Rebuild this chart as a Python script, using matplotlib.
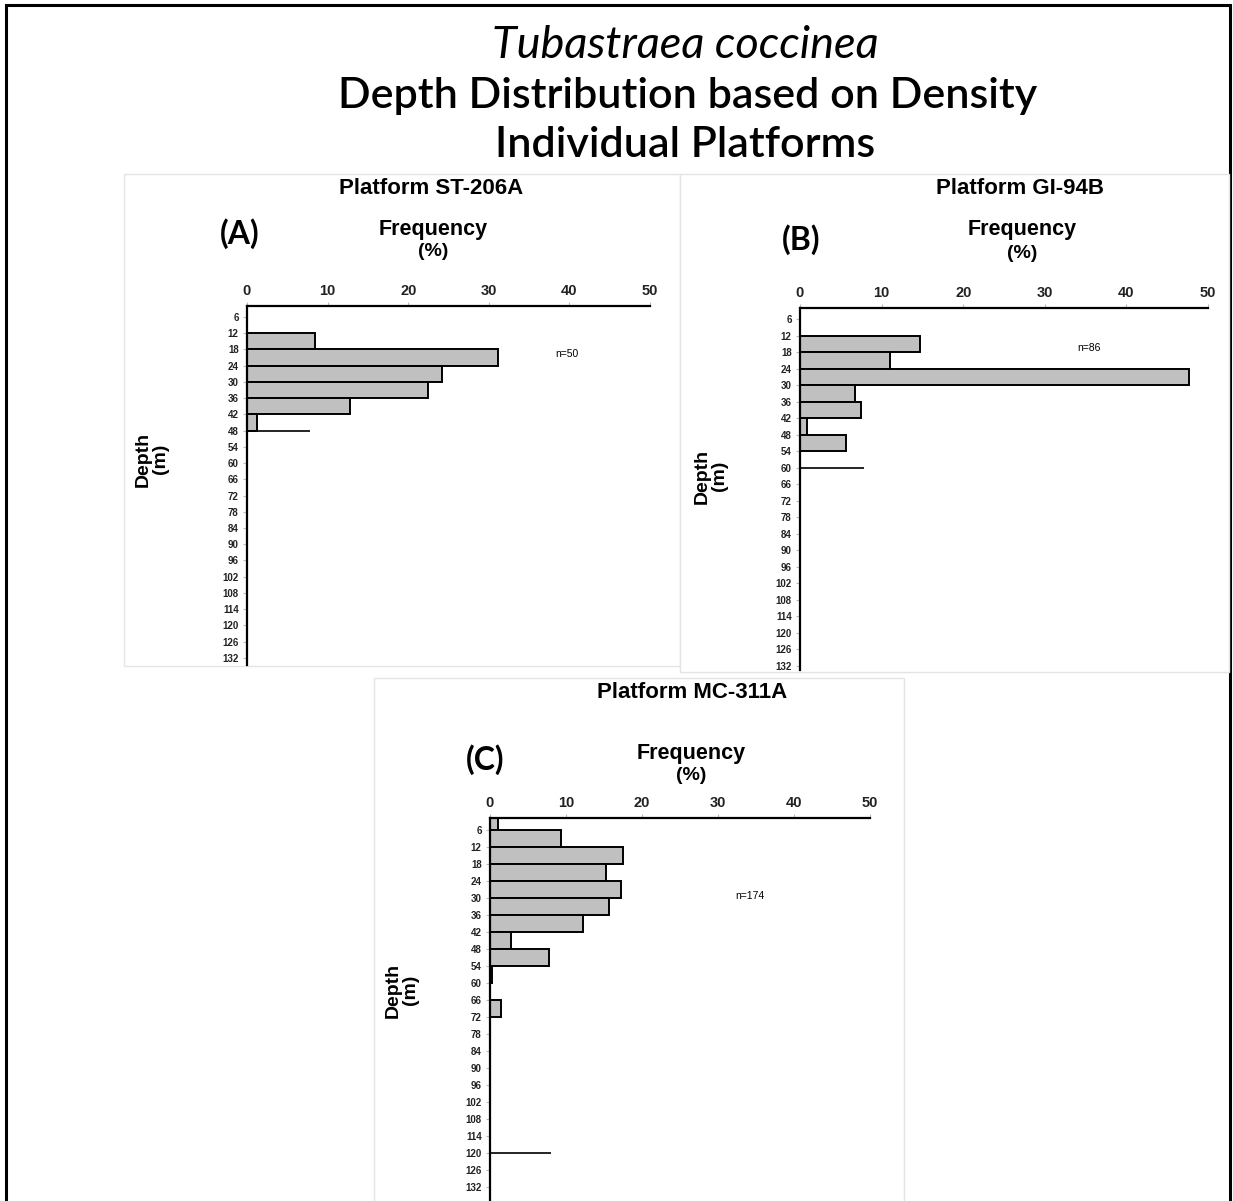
import numpy as np
import matplotlib
matplotlib.use("Agg")
import matplotlib.pyplot as plt
from matplotlib.patches import Rectangle

W, H = 1233, 1201

# bar data: depth bin start (m) and frequency (%)
a_depth = [12, 18, 24, 30, 36, 42]
a_freq = [8.4, 31.2, 24.2, 22.4, 12.8, 1.2]
b_depth = [12, 18, 24, 30, 36, 42, 48]
b_freq = [14.7, 11.0, 47.7, 6.7, 7.5, 0.9, 5.6]
c_depth = [0, 6, 12, 18, 24, 30, 36, 42, 48, 54, 66]
c_freq = [1.0, 9.3, 17.5, 15.3, 17.2, 15.6, 12.3, 2.7, 7.7, 0.3, 1.4]

# platform max depth markers (depth, length)
a_max = (48, 7.8)
b_max = (60, 7.8)
c_max = (120, 8.0)

depth_ticks = list(range(6, 133, 6))
freq_ticks = [0, 10, 20, 30, 40, 50]
bin_width = 6

arial = "Liberation Sans"
calibri = "Lato"

fig = plt.figure(figsize=(W / 100, H / 100), dpi=100)


def fx(x):
    return x / W


def fy(y):
    return 1 - y / H


def txt(x, y, s, **kw):
    kw.setdefault("ha", "center")
    kw.setdefault("va", "center")
    fig.text(fx(x), fy(y), s, **kw)


# slide border
fig.patches.append(Rectangle((fx(6), fy(1260)), fx(1230) - fx(6), fy(5) - fy(1260),
                             transform=fig.transFigure, fill=False, ec="black", lw=2.2,
                             zorder=-2))

# panel boxes
for (x0, y0, x1, y1) in [(124, 174, 680, 666), (680, 174, 1229, 672), (374, 678, 904, 1300)]:
    fig.patches.append(Rectangle((fx(x0), fy(y1)), fx(x1) - fx(x0), fy(y0) - fy(y1),
                                 transform=fig.transFigure, fc="white", ec="#e4e4e4",
                                 lw=1.0, zorder=-1))

# main title
txt(685, 46, "Tubastraea coccinea", fontsize=32.5, style="italic", family=calibri)
txt(688, 96, "Depth Distribution based on Density", fontsize=31, family=calibri,
    fontweight="semibold")
txt(685, 145, "Individual Platforms", fontsize=31, family=calibri, fontweight="semibold")


def panel(x0, x1, ytop, ybot, dtop, dbot, depth, freq, mx, ntext, npos):
    ax = fig.add_axes([fx(x0), fy(ybot), fx(x1) - fx(x0), fy(ytop) - fy(ybot)])
    ax.set_facecolor("none")
    ax.barh(depth, freq, height=bin_width, align="edge", color="#c0c0c0",
            edgecolor="black", linewidth=1.4)
    ax.hlines(mx[0], 0, mx[1], color="black", lw=1.2)
    ax.set_xlim(0, 50)
    ax.set_ylim(dbot, dtop)
    ax.xaxis.tick_top()
    ax.set_xticks(freq_ticks)
    ax.set_yticks(depth_ticks)
    for s in ["right", "bottom"]:
        ax.spines[s].set_visible(False)
    for s in ["left", "top"]:
        ax.spines[s].set_linewidth(1.6)
    ax.tick_params(axis="x", length=3, color="#bbbbbb", pad=3)
    ax.tick_params(axis="y", length=3, color="#bbbbbb", pad=3)
    for t in ax.get_xticklabels():
        t.set_fontsize(10.5)
        t.set_fontweight("bold")
        t.set_family(arial)
        t.set_color("#222222")
    for t in ax.get_yticklabels():
        t.set_fontsize(7)
        t.set_fontweight("bold")
        t.set_family(arial)
        t.set_color("#222222")
    ax.text(npos[0], npos[1], ntext, fontsize=7.5, family=arial, va="center")
    return ax


panel(247, 650, 306, 665, 2.0, 134.6, a_depth, a_freq, a_max, "n=50", (38.3, 19.6))
panel(800, 1208, 308, 670, 2.0, 133.5, b_depth, b_freq, b_max, "n=86", (34.0, 16.5))
panel(490, 870, 818, 1201, 1.8, 137.0, c_depth, c_freq, c_max, "n=174", (32.3, 29.5))

bold = dict(fontweight="bold", family=arial)

# panel A labels
txt(431, 188, "Platform ST-206A", fontsize=16, **bold)
txt(240, 234, "(A)", fontsize=23, family=calibri, fontweight="bold")
txt(433, 229, "Frequency", fontsize=15.5, **bold)
txt(433, 251, "(%)", fontsize=14, **bold)
txt(143, 459, "Depth", fontsize=14, rotation=90, **bold)
txt(161, 459, "(m)", fontsize=14, rotation=90, **bold)

# panel B labels
txt(1020, 188, "Platform GI-94B", fontsize=16, **bold)
txt(801, 240, "(B)", fontsize=23, family=calibri, fontweight="bold")
txt(1022, 230, "Frequency", fontsize=15.5, **bold)
txt(1022, 253, "(%)", fontsize=14, **bold)
txt(702, 476, "Depth", fontsize=14, rotation=90, **bold)
txt(720, 476, "(m)", fontsize=14, rotation=90, **bold)

# panel C labels
txt(692, 692, "Platform MC-311A", fontsize=16, **bold)
txt(485, 760, "(C)", fontsize=23, family=calibri, fontweight="bold")
txt(691, 753, "Frequency", fontsize=15.5, **bold)
txt(691, 775, "(%)", fontsize=14, **bold)
txt(393, 990, "Depth", fontsize=14, rotation=90, **bold)
txt(411, 990, "(m)", fontsize=14, rotation=90, **bold)

fig.savefig("out.png", dpi=100)
